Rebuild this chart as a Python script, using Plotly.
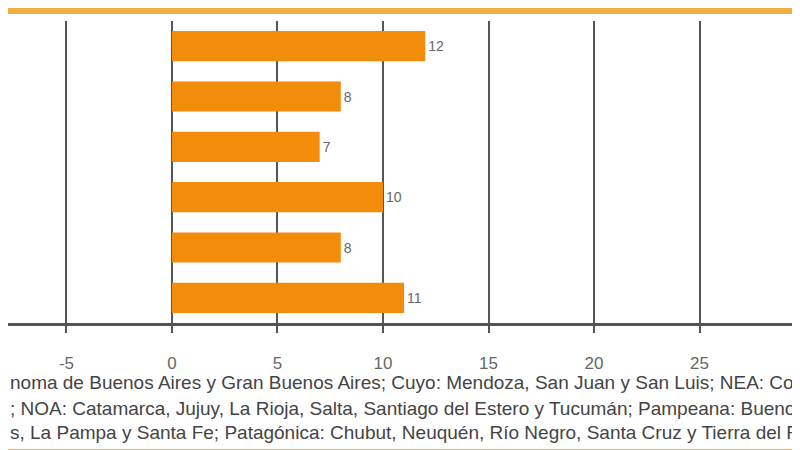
import plotly.graph_objects as go

categories = ["R1", "R2", "R3", "R4", "R5", "R6"]
values = [12, 8, 7, 10, 8, 11]
tick_vals = [-5, 0, 5, 10, 15, 20, 25, 30]
tick_text = ["-5", "0", "5", "10", "15", "20", "25", "30"]
notes = [
    "noma de Buenos Aires y Gran Buenos Aires; Cuyo: Mendoza, San Juan y San Luis; NEA: Corrientes",
    "; NOA: Catamarca, Jujuy, La Rioja, Salta, Santiago del Estero y Tucumán; Pampeana: Buenos Aires",
    "s, La Pampa y Santa Fe; Patagónica: Chubut, Neuquén, Río Negro, Santa Cruz y Tierra del Fuego",
]

fig = go.Figure(go.Bar(
    y=categories, x=values, orientation="h",
    marker=dict(color="#f28c0a", line=dict(width=0)),
    text=values, textposition="outside", cliponaxis=False,
    textfont=dict(color="#666", size=14, family="Liberation Sans"),
))

fig.update_layout(
    width=800, height=450, margin=dict(l=0, r=0, t=13, b=135, autoexpand=False),
    paper_bgcolor="white", plot_bgcolor="white", showlegend=False, bargap=0.4,
    font=dict(family="Liberation Sans"),
)
fig.update_xaxes(
    range=[-7.77, 30.14], tickvals=tick_vals, ticktext=tick_text, showgrid=True, gridcolor="#555",
    gridwidth=2, zeroline=False, showline=True, linecolor="#555", linewidth=3,
    ticks="outside", ticklen=7, tickwidth=2, tickcolor="#555",
    ticklabelstandoff=16, tickfont=dict(size=17, color="#666"),
    layer="above traces", automargin=False,
)
fig.update_yaxes(autorange="reversed", showticklabels=False, showgrid=False, zeroline=False,
                 automargin=False)

for i, t in enumerate(notes):
    fig.add_annotation(x=0, y=(315 - (375 + 25 * i)) / 302, xref="paper", yref="paper",
                       text=t, showarrow=False, xanchor="left", yanchor="middle",
                       font=dict(size=19, color="#444"))
for py in (3, 444):
    fig.add_shape(type="line", xref="paper", yref="paper", x0=0, x1=1,
                  y0=(315 - py) / 302, y1=(315 - py) / 302,
                  line=dict(color="#f0b040", width=6))

fig.write_html("out.html")
